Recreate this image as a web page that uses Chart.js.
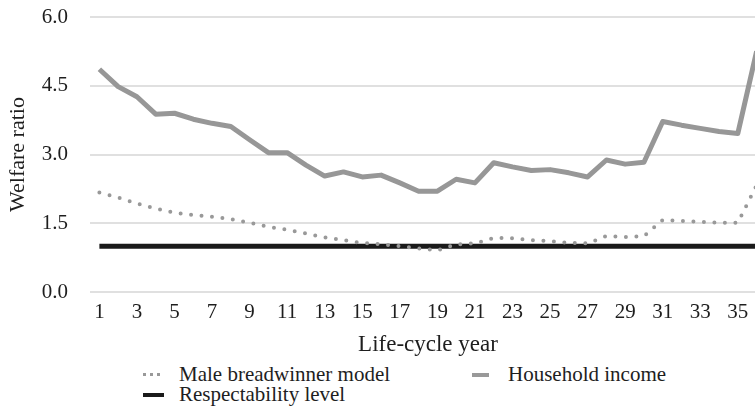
<!DOCTYPE html>
<html>
<head>
<meta charset="utf-8">
<script src="https://cdn.jsdelivr.net/npm/chart.js@4"></script>
<style>
  html, body { margin: 0; padding: 0; background: #fff; }
  #wrap { position: relative; width: 755px; height: 407px; overflow: hidden; }
  #box { position: absolute; left: 0; top: 0; width: 766px; height: 359px; }
  .leg { position: absolute; font-family: "Liberation Serif", "DejaVu Serif", serif; font-size: 21px; color: #1e1e1e; line-height: 22px; white-space: nowrap; }
  .mk { position: absolute; width: 17px; height: 0; }
</style>
</head>
<body>
<div id="wrap">
  <div id="box"><canvas id="chart" width="766" height="359"></canvas></div>
  <div class="mk" style="left:143px; top:373px; border-top:3px dotted #999;"></div>
  <div class="leg" style="left:179px; top:363px;">Male breadwinner model</div>
  <div class="mk" style="left:472px; top:373px; border-top:4px solid #999;"></div>
  <div class="leg" style="left:508px; top:363px;">Household income</div>
  <div class="mk" style="left:143px; top:393px; border-top:4px solid #1a1a1a; width:21px;"></div>
  <div class="leg" style="left:179px; top:383px;">Respectability level</div>
</div>
<script>
const years = [];
for (let i = 1; i <= 36; i++) years.push(String(i));

const householdIncome = [4.86, 4.48, 4.26, 3.88, 3.90, 3.77, 3.68, 3.61, 3.32, 3.04,
  3.04, 2.77, 2.53, 2.62, 2.51, 2.55, 2.38, 2.20, 2.20, 2.46,
  2.38, 2.82, 2.73, 2.65, 2.67, 2.60, 2.51, 2.88, 2.79, 2.83,
  3.72, 3.64, 3.57, 3.50, 3.46, 5.25];

const maleBreadwinner = [2.17, 2.06, 1.93, 1.82, 1.73, 1.68, 1.64, 1.59, 1.51, 1.42,
  1.36, 1.28, 1.19, 1.13, 1.07, 1.04, 1.00, 0.95, 0.91, 1.04,
  1.06, 1.18, 1.17, 1.13, 1.11, 1.07, 1.06, 1.22, 1.20, 1.22,
  1.57, 1.55, 1.53, 1.51, 1.51, 2.33];

const respectability = years.map(() => 1.0);

const yTicks = [0, 1.5, 3, 4.5, 6];

const serif = "'Liberation Serif', 'DejaVu Serif', serif";

const ctx = document.getElementById('chart').getContext('2d');
new Chart(ctx, {
  type: 'line',
  data: {
    labels: years,
    datasets: [
      {
        label: 'Respectability level',
        data: respectability,
        borderColor: '#1a1a1a',
        borderWidth: 5,
        pointRadius: 0,
        tension: 0,
        order: 3
      },
      {
        label: 'Male breadwinner model',
        data: maleBreadwinner,
        borderColor: '#999999',
        borderWidth: 4,
        borderDash: [0, 10.5],
        borderCapStyle: 'round',
        pointRadius: 0,
        tension: 0,
        order: 2
      },
      {
        label: 'Household income',
        data: householdIncome,
        borderColor: '#979797',
        borderWidth: 5,
        borderJoinStyle: 'round',
        pointRadius: 0,
        tension: 0,
        order: 1
      }
    ]
  },
  options: {
    responsive: false,
    animation: false,
    layout: { padding: 0 },
    plugins: {
      legend: { display: false },
      tooltip: { enabled: false }
    },
    scales: {
      x: {
        offset: true,
        grid: { display: false, drawTicks: false },
        border: { display: false },
        ticks: {
          autoSkip: false,
          maxRotation: 0,
          padding: 8,
          color: '#1e1e1e',
          font: { family: serif, size: 21 },
          callback: function (v, i) { return i % 2 === 0 ? this.getLabelForValue(v) : ''; }
        },
        title: {
          display: true,
          text: 'Life-cycle year',
          color: '#1e1e1e',
          font: { family: serif, size: 23 },
          padding: 0
        },
        afterFit: s => { s.height = 67; s.paddingLeft = 0; s.paddingRight = 0; }
      },
      y: {
        min: 0,
        max: 6,
        afterBuildTicks: s => { s.ticks = yTicks.map(v => ({ value: v })); },
        grid: { color: '#e0e0e0', lineWidth: 2, drawTicks: false },
        border: { display: false },
        ticks: {
          padding: 22,
          color: '#1e1e1e',
          font: { family: serif, size: 21 },
          callback: v => v.toFixed(1)
        },
        title: {
          display: true,
          text: 'Welfare ratio',
          color: '#1e1e1e',
          font: { family: serif, size: 22 },
          padding: { top: 5, bottom: 0 }
        },
        afterFit: s => { s.width = 90; s.paddingTop = 17; s.paddingBottom = 0; }
      }
    }
  }
});
</script>
</body>
</html>
